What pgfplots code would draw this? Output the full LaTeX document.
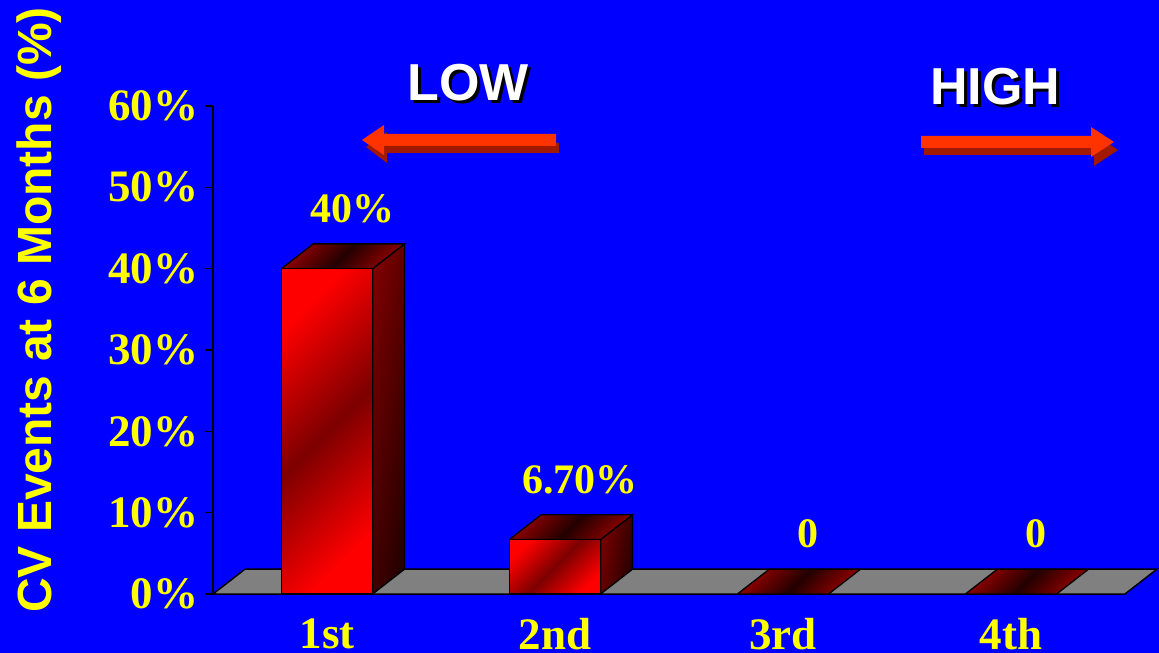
\documentclass[border=0pt]{standalone}
\usepackage{fontspec}
\setmainfont{Liberation Serif}
\newfontfamily\arialf{Liberation Sans}
\usepackage{pgfplots}
\pgfplotsset{compat=1.18}
\definecolor{bg}{RGB}{0,0,255}
\definecolor{yel}{RGB}{255,255,0}
\definecolor{flr}{RGB}{128,128,128}
\definecolor{arr}{RGB}{255,51,0}
\definecolor{arrsh}{RGB}{160,25,0}
\definecolor{brred}{RGB}{255,0,0}
\definecolor{dkred}{RGB}{125,0,0}
\definecolor{blkred}{RGB}{35,0,0}
\newcommand\numfont{\fontsize{42bp}{42bp}\selectfont\bfseries}
\newcommand\tickfont{\fontsize{45bp}{45bp}\selectfont\bfseries}
\newcommand\lblfont{\arialf\fontsize{48bp}{48bp}\selectfont\bfseries}
\newcommand\hlfont{\arialf\fontsize{52bp}{52bp}\selectfont\bfseries}
\newcommand\shadowed[1]{\makebox[0pt][l]{\hspace*{3bp}\raisebox{-3bp}{\color{black}#1}}\color{white}#1}
\tikzset{
  barfront/.style={draw=black, line width=1.3bp, left color=brred, right color=brred, middle color=dkred, shading angle=45},
  barside/.style={draw=black, line width=1.3bp, left color=dkred, right color=blkred, shading angle=80},
  bartop/.style={draw=black, line width=1.3bp, left color=dkred!85!red, right color=dkred!85!red, middle color=blkred, shading angle=45},
}
\begin{document}
\begin{tikzpicture}
\path[use as bounding box] (0,0) rectangle (1159bp,653bp);
\fill[bg] (0,0) rectangle (1159bp,653bp);
\begin{scope}[x=1bp,y=1bp]
  \fill[arrsh] (559,510) -- (387,510) -- (387,521) -- (366,506) -- (387,490) -- (387,500) -- (559,500) -- cycle;
  \fill[arr] (556,519) -- (384,519) -- (384,528) -- (362,513) -- (384,498) -- (384,507) -- (556,507) -- cycle;
  \fill[arrsh] (924,508) -- (1094,508) -- (1094,519) -- (1118,503) -- (1094,487) -- (1094,498) -- (924,498) -- cycle;
  \fill[arr] (921,517) -- (1091,517) -- (1091,526) -- (1114,511) -- (1091,496) -- (1091,505) -- (921,505) -- cycle;
  \node[font=\hlfont] at (468,569) {\shadowed{LOW}};
  \node[font=\hlfont] at (995,565) {\shadowed{HIGH}};
\end{scope}
\begin{axis}[
  at={(213bp,59bp)}, anchor=south west,
  scale only axis, width=912bp, height=488bp,
  xmin=-0.5, xmax=3.5, ymin=0, ymax=60,
  clip=false,
  axis lines*=left,
  axis line style={black, line width=1.5bp},
  xtick={0,1,2,3},
  xticklabels={1st,2nd,3rd,4th},
  major x tick style={draw=none},
  ytick={0,10,20,30,40,50,60},
  tick align=outside,
  major tick length=8bp,
  major y tick style={black, line width=1.5bp},
  /pgf/number format/assume math mode=true,
  yticklabel={\pgfmathprintnumber{\tick}\%},
  yticklabel style={font=\tickfont, text=yel, xshift=-3bp},
  xticklabel style={font=\tickfont, text=yel, yshift=-13bp},
  ylabel={CV Events at 6 Months (\%)},
  ylabel style={font=\lblfont, text=yel, at={(axis description cs:-0.191,0.582)}, anchor=center},
]
\addplot[fill=flr, draw=black, line width=1.5bp] coordinates {(-0.5,0) (3.5,0) (3.64,3.05) (-0.36,3.05) (-0.5,0)};
\addplot[barside] coordinates {(0.2,0) (0.34,3.05) (0.34,43.05) (0.2,40) (0.2,0)};
\addplot[bartop] coordinates {(-0.2,40) (0.2,40) (0.34,43.05) (-0.06,43.05) (-0.2,40)};
\addplot[barfront] coordinates {(-0.2,0) (0.2,0) (0.2,40) (-0.2,40) (-0.2,0)};
\addplot[barside] coordinates {(1.2,0) (1.34,3.05) (1.34,9.75) (1.2,6.7) (1.2,0)};
\addplot[bartop] coordinates {(0.8,6.7) (1.2,6.7) (1.34,9.75) (0.94,9.75) (0.8,6.7)};
\addplot[barfront] coordinates {(0.8,0) (1.2,0) (1.2,6.7) (0.8,6.7) (0.8,0)};
\addplot[bartop] coordinates {(1.8,0) (2.2,0) (2.34,3.05) (1.94,3.05) (1.8,0)};
\addplot[bartop] coordinates {(2.8,0) (3.2,0) (3.34,3.05) (2.94,3.05) (2.8,0)};
\addplot[draw=none, mark=none, nodes near coords, point meta=explicit symbolic,
  every node near coord/.append style={font=\numfont, text=yel, anchor=center, xshift=25bp, yshift=60bp}]
  coordinates {(0,40) [40\%] (1,6.7) [6.70\%] (2,0) [0] (3,0) [0]};
\end{axis}
\end{tikzpicture}
\end{document}
